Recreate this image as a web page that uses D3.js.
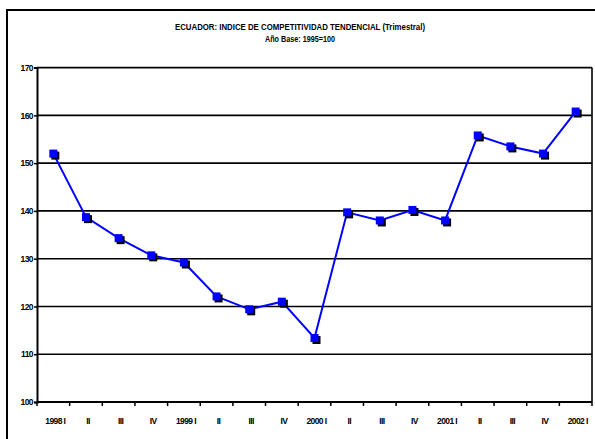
<!DOCTYPE html>
<html><head><meta charset="utf-8">
<script src="https://cdn.jsdelivr.net/npm/d3@7"></script>
<style>
html,body{margin:0;padding:0;background:#fff;}
svg{display:block;}
text{font-family:"Liberation Sans Narrow","Liberation Sans",Arial,sans-serif;font-weight:bold;fill:#000;}
</style></head>
<body><svg id="c" width="595" height="439"></svg>
<script>
const categories = ["1998 I","II","III","IV","1999 I","II","III","IV","2000 I","II","III","IV","2001 I","II","III","IV","2002 I"];
const values = [152.0,138.7,134.3,130.7,129.2,122.1,119.4,121.0,113.4,139.7,138.0,140.2,138.0,155.8,153.5,152.0,160.8];
const yTicks = [100,110,120,130,140,150,160,170];
const title = "ECUADOR: INDICE DE COMPETITIVIDAD TENDENCIAL (Trimestral)";
const subtitle = "Año Base: 1995=100";

const svg = d3.select("#c");
// outer frame
svg.append("rect").attr("x",7).attr("y",10).attr("width",600).attr("height",440)
  .attr("fill","none").attr("stroke","#000").attr("stroke-width",2);

svg.append("text").attr("x",300).attr("y",30).attr("text-anchor","middle")
  .attr("font-size",8.5).attr("textLength",250).attr("lengthAdjust","spacingAndGlyphs").text(title);
svg.append("text").attr("x",300).attr("y",42).attr("text-anchor","middle")
  .attr("font-size",8.5).attr("textLength",70).attr("lengthAdjust","spacingAndGlyphs").text(subtitle);

const L=37, R=592, T=67.6, B=402;
const x = d3.scaleBand().domain(d3.range(categories.length)).range([L,R]);
const y = d3.scaleLinear().domain([100,170]).range([B,T]);

// gridlines
svg.append("g").selectAll("line").data(yTicks.slice(1)).join("line")
  .attr("x1",L).attr("x2",R).attr("y1",d=>y(d)).attr("y2",d=>y(d))
  .attr("stroke","#000").attr("stroke-width",1.6);
// right border
svg.append("line").attr("x1",R).attr("x2",R).attr("y1",T).attr("y2",B).attr("stroke","#000").attr("stroke-width",1.6);

// y axis
const ya = svg.append("g").attr("transform",`translate(${L},0)`)
  .call(d3.axisLeft(y).tickValues(yTicks).tickSize(3).tickPadding(1).tickFormat(d3.format("d")));
ya.select(".domain").attr("stroke","#000").attr("stroke-width",2);
ya.selectAll(".tick line").attr("stroke-width",1.5);
ya.selectAll("text").attr("font-size",8.5).attr("font-family",null).attr("letter-spacing",-0.6);

// x axis with ticks at category boundaries
const xa = svg.append("g").attr("transform",`translate(0,${B})`);
xa.append("line").attr("x1",L).attr("x2",R).attr("stroke","#000").attr("stroke-width",2);
const bounds = d3.range(categories.length+1).map(i => i<categories.length ? x(i) : x(categories.length-1)+x.bandwidth());
xa.selectAll("line.t").data(bounds).join("line").attr("class","t")
  .attr("x1",d=>d).attr("x2",d=>d).attr("y1",0).attr("y2",4).attr("stroke","#000").attr("stroke-width",1.5);
xa.selectAll("text").data(categories).join("text")
  .attr("x",(d,i)=>x(i)+x.bandwidth()/2+2).attr("y",22).attr("text-anchor","middle")
  .attr("font-size",8.5).attr("letter-spacing",-0.6).text(d=>d);

// line
const line = d3.line().x((d,i)=>x(i)+x.bandwidth()/2).y(d=>y(d));
svg.append("path").datum(values).attr("d",line).attr("fill","none")
  .attr("stroke","#0000ff").attr("stroke-width",2);

// markers with shadow
const s=8;
svg.append("g").selectAll("rect").data(values).join("rect")
  .attr("x",(d,i)=>x(i)+x.bandwidth()/2-s/2+2).attr("y",d=>y(d)-s/2+2)
  .attr("width",s).attr("height",s).attr("fill","#000");
svg.append("g").selectAll("rect").data(values).join("rect")
  .attr("x",(d,i)=>x(i)+x.bandwidth()/2-s/2).attr("y",d=>y(d)-s/2)
  .attr("width",s).attr("height",s).attr("fill","#0000ff");
</script></body></html>
